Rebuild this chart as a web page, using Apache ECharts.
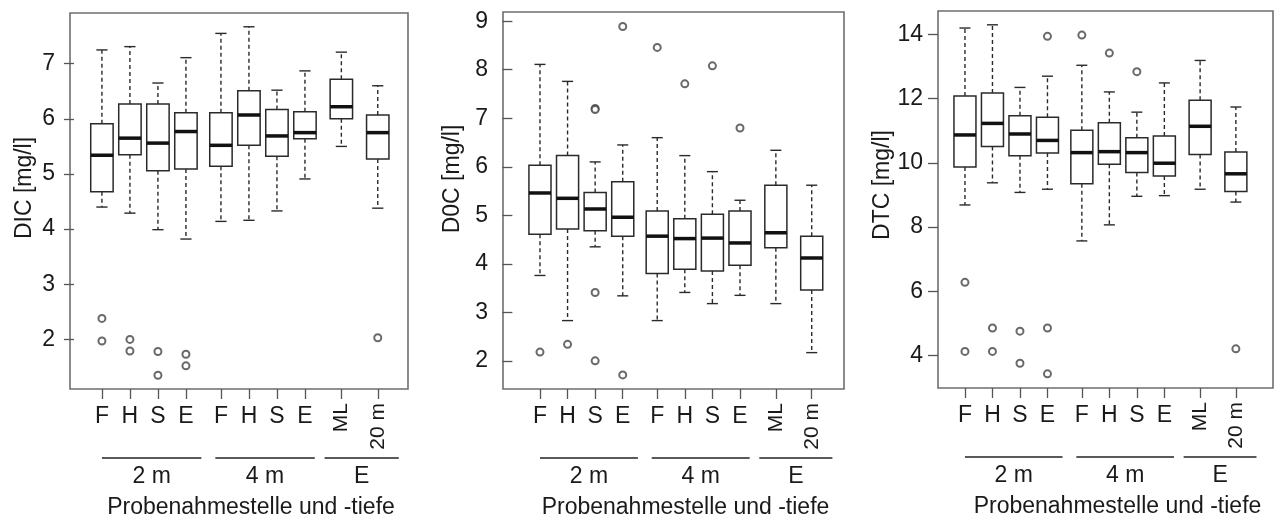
<!DOCTYPE html>
<html>
<head>
<meta charset="utf-8">
<script src="https://cdn.jsdelivr.net/npm/echarts@6/dist/echarts.min.js"></script>
<style>
html,body{margin:0;padding:0;background:#fff;}
#c{width:1275px;height:520px;}
</style>
</head>
<body>
<div id="c"></div>
<script>
// ---- categories & tick labels ----
const categories = ['F','H','S','E','F','H','S','E','ML','20 m'];
const groupLabels = ['2 m','4 m','E'];
const xTitle = 'Probenahmestelle und -tiefe';
const yTitles = ['DIC [mg/l]','D0C [mg/l]','DTC [mg/l]'];
const yTicks1 = [2,3,4,5,6,7];
const yTicks2 = [2,3,4,5,6,7,8,9];
const yTicks3 = [4,6,8,10,12,14];

// ---- DIC ----
const dicLow  = [4.40,4.29,3.99,3.82,4.14,4.16,4.33,4.91,5.50,4.38];
const dicQ1   = [4.68,5.35,5.06,5.09,5.14,5.52,5.32,5.64,6.00,5.27];
const dicMed  = [5.34,5.65,5.56,5.77,5.52,6.07,5.69,5.75,6.22,5.75];
const dicQ3   = [5.91,6.27,6.27,6.11,6.11,6.51,6.17,6.13,6.72,6.07];
const dicHigh = [7.25,7.31,6.65,7.11,7.55,7.67,6.52,6.87,7.21,6.60];
const dicOut  = [[0,2.38],[0,1.97],[1,2.00],[1,1.79],[2,1.78],[2,1.35],[3,1.73],[3,1.52],[9,2.03]];

// ---- DOC ----
const docLow  = [3.76,2.83,4.35,3.34,2.83,3.41,3.18,3.35,3.18,2.17];
const docQ1   = [4.61,4.72,4.68,4.57,3.80,3.89,3.85,3.97,4.33,3.46];
const docMed  = [5.46,5.35,5.13,4.96,4.57,4.52,4.53,4.43,4.64,4.12];
const docQ3   = [6.03,6.23,5.47,5.69,5.09,4.93,5.02,5.09,5.62,4.57];
const docHigh = [8.11,7.76,6.10,6.45,6.60,6.23,5.90,5.31,6.34,5.62];
const docOut  = [[0,2.18],[1,2.34],[2,7.20],[2,7.18],[2,3.41],[2,2.00],[3,8.89],[3,1.71],[4,8.46],[5,7.71],[6,8.08],[7,6.80]];

// ---- DTC ----
const dtcLow  = [8.69,9.38,9.08,9.18,7.57,8.07,8.96,8.98,9.18,8.78];
const dtcQ1   = [9.87,10.51,10.22,10.31,9.35,9.96,9.70,9.59,10.26,9.11];
const dtcMed  = [10.87,11.23,10.90,10.70,10.32,10.35,10.32,9.99,11.14,9.66];
const dtcQ3   = [12.08,12.18,11.47,11.42,11.02,11.25,10.78,10.84,11.95,10.34];
const dtcHigh = [14.20,14.30,12.35,12.70,13.04,12.21,11.58,12.49,13.19,11.74];
const dtcOut  = [[0,6.28],[0,4.13],[1,4.86],[1,4.13],[2,4.76],[2,3.76],[3,13.94],[3,4.86],[3,3.43],[4,13.98],[5,13.42],[6,12.84],[9,4.21]];

// ---- layout (slot positions along x, not data) ----
const slots = [1,2,3,4,5.25,6.25,7.25,8.25,9.55,10.85];
const groupSpans = [[1.0,4.55],[5.05,8.6],[8.95,11.6]];

const FONT = "'Liberation Sans', Arial, Helvetica, sans-serif";
const TXT = '#1a1a1a';

const panels = [
  {grid:{left:70, top:13, width:338, height:376}, xr:[-0.14,11.93], yr:[1.10,7.92], ticks:yTicks1,
   low:dicLow,q1:dicQ1,med:dicMed,q3:dicQ3,high:dicHigh,out:dicOut, yname:[25,188]},
  {grid:{left:503, top:12, width:341, height:377}, xr:[-0.34,12.02], yr:[1.42,9.19], ticks:yTicks2,
   low:docLow,q1:docQ1,med:docMed,q3:docQ3,high:docHigh,out:docOut, yname:[453,179]},
  {grid:{left:938, top:11, width:335, height:377}, xr:[0.02,12.2], yr:[2.99,14.73], ticks:yTicks3,
   low:dtcLow,q1:dtcQ1,med:dtcMed,q3:dtcQ3,high:dtcHigh,out:dtcOut, yname:[883,185]}
];

function labelFor(v){
  let best=0, bd=1e9;
  slots.forEach((s,i)=>{const d=Math.abs(s-v); if(d<bd){bd=d;best=i;}});
  return categories[best];
}

function renderBox(params, api){
  const x = api.value(0);
  const lo = api.coord([x, api.value(1)]);
  const q1 = api.coord([x, api.value(2)]);
  const md = api.coord([x, api.value(3)]);
  const q3 = api.coord([x, api.value(4)]);
  const hi = api.coord([x, api.value(5)]);
  const w = api.size([0.8, 0])[0];
  const cx = lo[0];
  const stroke = '#2a2a2a';
  const dash = {stroke, lineWidth:1.4, lineDash:[4,3]};
  const solid = {stroke, lineWidth:1.4};
  return {type:'group', children:[
    {type:'line', shape:{x1:cx,y1:q3[1],x2:cx,y2:hi[1]}, style:dash},
    {type:'line', shape:{x1:cx,y1:q1[1],x2:cx,y2:lo[1]}, style:dash},
    {type:'line', shape:{x1:cx-w/4,y1:hi[1],x2:cx+w/4,y2:hi[1]}, style:solid},
    {type:'line', shape:{x1:cx-w/4,y1:lo[1],x2:cx+w/4,y2:lo[1]}, style:solid},
    {type:'rect', shape:{x:cx-w/2,y:q3[1],width:w,height:q1[1]-q3[1]}, style:{fill:'#fff',stroke,lineWidth:1.5}},
    {type:'line', shape:{x1:cx-w/2,y1:md[1],x2:cx+w/2,y2:md[1]}, style:{stroke:'#111',lineWidth:3.5}}
  ]};
}

const option = {animation:false, backgroundColor:'#fff', grid:[], xAxis:[], yAxis:[], series:[]};

panels.forEach((p,k)=>{
  option.grid.push(Object.assign({show:true, borderColor:'#6e6e6e', borderWidth:1.6, backgroundColor:'transparent'}, p.grid));
  option.xAxis.push({
    type:'value', gridIndex:k, min:p.xr[0], max:p.xr[1],
    axisLine:{show:false}, splitLine:{show:false},
    axisTick:{show:true, customValues:slots, length:10, inside:false, lineStyle:{color:'#555',width:1.3}},
    axisLabel:{customValues:slots.slice(0,8), formatter:v=>labelFor(v), margin:16, fontSize:23, fontFamily:FONT, color:TXT}
  });
  option.xAxis.push({
    type:'value', gridIndex:k, min:p.xr[0], max:p.xr[1], position:'bottom',
    axisLine:{show:false}, splitLine:{show:false}, axisTick:{show:false},
    axisLabel:{customValues:slots.slice(8), formatter:v=>labelFor(v), rotate:90, margin:14, fontSize:21, fontFamily:FONT, color:TXT}
  });
  option.yAxis.push({
    type:'value', gridIndex:k, min:p.yr[0], max:p.yr[1],
    axisLine:{show:false}, splitLine:{show:false},
    axisTick:{show:true, customValues:p.ticks, length:10, lineStyle:{color:'#555',width:1.3}},
    axisLabel:{customValues:p.ticks, margin:15, fontSize:23, fontFamily:FONT, color:TXT}
  });
  const boxData = slots.map((s,i)=>[s, p.low[i], p.q1[i], p.med[i], p.q3[i], p.high[i]]);
  option.series.push({
    type:'custom', xAxisIndex:2*k, yAxisIndex:k, renderItem:renderBox,
    encode:{x:0, y:[1,2,3,4,5]}, data:boxData, z:2
  });
  option.series.push({
    type:'scatter', xAxisIndex:2*k, yAxisIndex:k, symbol:'emptyCircle', symbolSize:7,
    itemStyle:{color:'#444', borderColor:'#444', borderWidth:1.1},
    data:p.out.map(o=>[slots[o[0]], o[1]]), z:3
  });
});

const chart = echarts.init(document.getElementById('c'), null, {renderer:'canvas'});
chart.setOption(option);

const graphics = [];
panels.forEach((p,k)=>{
  const bottom = p.grid.top + p.grid.height;
  groupSpans.forEach((sp,g)=>{
    const x1 = chart.convertToPixel({xAxisIndex:2*k}, sp[0]);
    const x2 = chart.convertToPixel({xAxisIndex:2*k}, sp[1]);
    graphics.push({type:'line', shape:{x1, y1:bottom+69, x2, y2:bottom+69}, style:{stroke:'#222', lineWidth:1.4}});
    graphics.push({type:'text', x:(x1+x2)/2, y:bottom+88, style:{text:groupLabels[g], font:'23px '+FONT, fill:TXT, textAlign:'center', textVerticalAlign:'middle'}});
  });
  graphics.push({type:'text', x:p.grid.left + p.grid.width/2 + 12, y:bottom+119,
    style:{text:xTitle, font:'23px '+FONT, fill:TXT, textAlign:'center', textVerticalAlign:'middle'}});
  graphics.push({type:'text', x:p.yname[0], y:p.yname[1], rotation:Math.PI/2,
    style:{text:yTitles[k], font:'23px '+FONT, fill:TXT, textAlign:'center', textVerticalAlign:'middle'}});
});
chart.setOption({graphic:graphics});
</script>
</body>
</html>
